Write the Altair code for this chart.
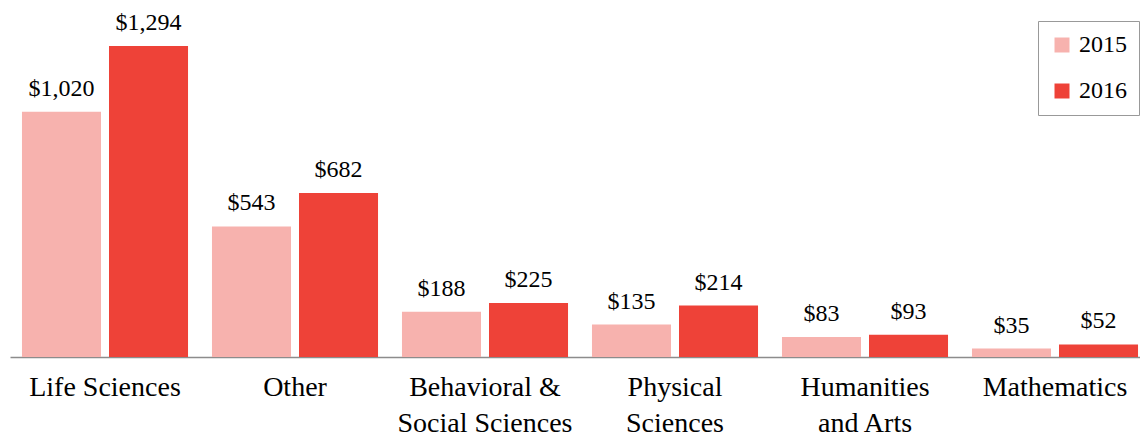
import altair as alt
import pandas as pd

categories = ["Life Sciences", "Other", "Behavioral &\nSocial Sciences",
              "Physical\nSciences", "Humanities\nand Arts", "Mathematics"]
values_2015 = [1020, 543, 188, 135, 83, 35]
values_2016 = [1294, 682, 225, 214, 93, 52]
years = ["2015", "2016"]
colors = ["#f7b2ae", "#ee4238"]

rows = []
for c, a, b in zip(categories, values_2015, values_2016):
    rows.append({"category": c, "year": "2015", "value": a})
    rows.append({"category": c, "year": "2016", "value": b})
df = pd.DataFrame(rows)

FONT = "Liberation Serif"

x = alt.X("category:N", sort=categories,
          scale=alt.Scale(range=[0, 1140], paddingInner=0.126, paddingOuter=0.063),
          axis=alt.Axis(title=None, labelAngle=0, ticks=False, domainColor="#8c8c8c",
                        domainWidth=1.5, labelFont=FONT, labelFontSize=28,
                        labelColor="#000000", labelLineHeight=36, labelPadding=16,
                        labelLimit=0, labelOverlap=False,
                        labelExpr="split(datum.label, '\\n')"))
xo = alt.XOffset("year:N", scale=alt.Scale(paddingInner=0.092, paddingOuter=0))
y = alt.Y("value:Q", scale=alt.Scale(domain=[0, 1485], nice=False), axis=None)

bars = alt.Chart(df).mark_bar().encode(
    x=x, xOffset=xo, y=y,
    color=alt.Color("year:N", scale=alt.Scale(domain=years, range=colors),
                    legend=alt.Legend(title=None, orient="none", legendX=1028, legendY=21,
                                      symbolType="square", symbolSize=225,
                                      symbolStrokeWidth=0,
                                      labelFont=FONT, labelFontSize=24, labelColor="#000000",
                                      rowPadding=22, padding=12,
                                      strokeColor="#999999", fillColor="#ffffff",
                                      labelOffset=5)),
)

text = alt.Chart(df).mark_text(baseline="alphabetic", dy=-16, font=FONT, fontSize=24,
                               color="#000000").encode(
    x=x, xOffset=xo, y=y,
    text=alt.Text("value:Q", format="$,.0f"),
)

chart = alt.layer(bars, text).properties(
    width=1130, height=357,
    autosize=alt.AutoSizeParams(type="none"),
    padding={"left": 10, "top": 0, "right": 0, "bottom": 81},
).configure_view(stroke=None)

chart.save("out.html", embed_options={"renderer": "svg", "actions": False})
